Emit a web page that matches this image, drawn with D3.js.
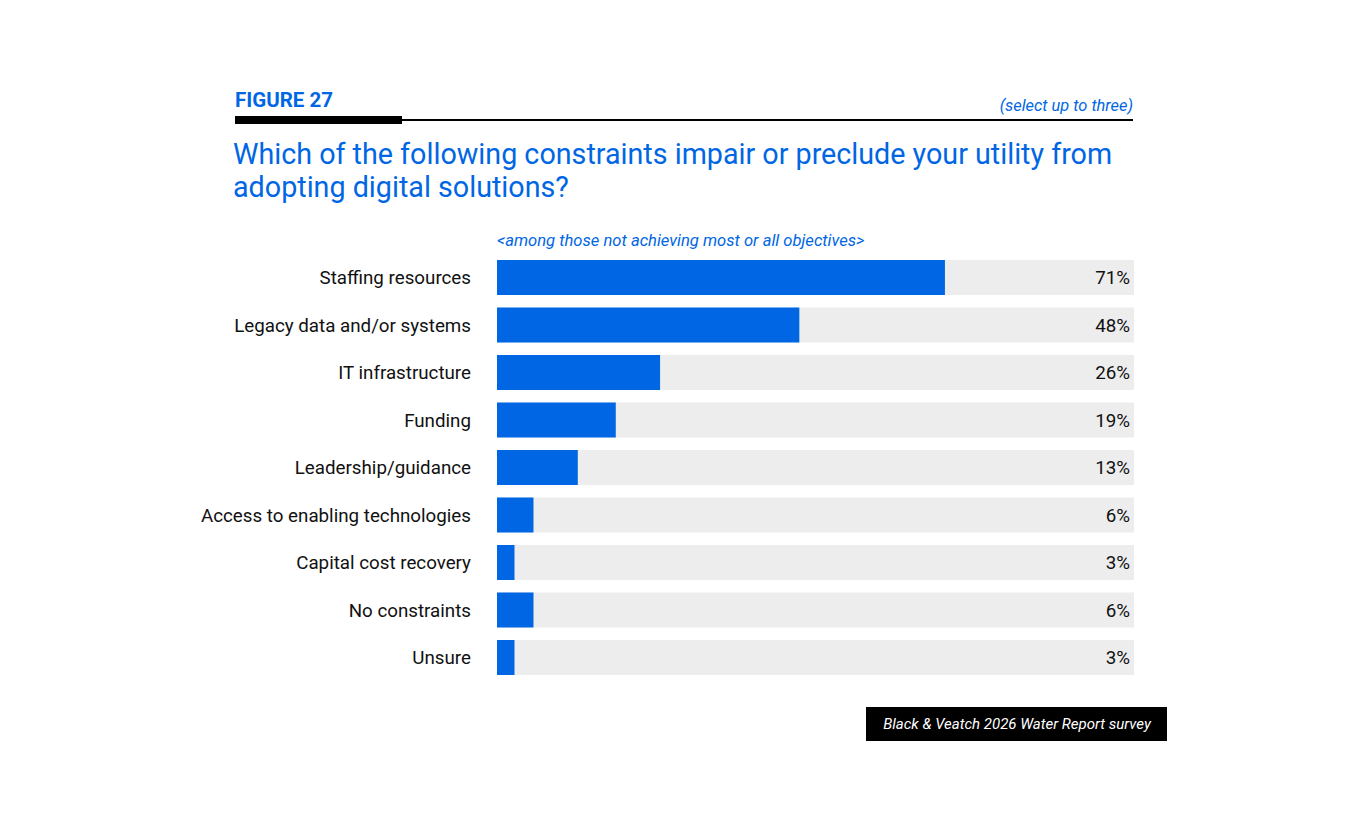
<!DOCTYPE html>
<html>
<head>
<meta charset="utf-8">
<script src="https://cdn.jsdelivr.net/npm/d3@7"></script>
<style>
  body { margin: 0; background: #fff; }
  text { font-family: Roboto, "Open Sans", sans-serif; }
</style>
</head>
<body>
<script>
// data
var categories = ["Staffing resources", "Legacy data and/or systems", "IT infrastructure",
  "Funding", "Leadership/guidance", "Access to enabling technologies",
  "Capital cost recovery", "No constraints", "Unsure"];
var values = [71, 48, 26, 19, 13, 6, 3, 6, 3];

var data = categories.map(function(c, i) { return {name: c, value: values[i]}; });

var W = 1367, H = 827;
var blue = "#0066e4";

var svg = d3.select("body")
  .append("svg")
    .attr("width", W)
    .attr("height", H);

// header
svg.append("text")
  .attr("x", 235).attr("y", 107)
  .style("font-size", "20.5px")
  .style("font-weight", "bold")
  .style("fill", blue)
  .text("FIGURE 27");

svg.append("rect")
  .attr("x", 235).attr("y", 116)
  .attr("width", 167).attr("height", 8)
  .attr("fill", "#000");

svg.append("rect")
  .attr("x", 402).attr("y", 119)
  .attr("width", 731).attr("height", 2)
  .attr("fill", "#000");

svg.append("text")
  .attr("x", 1133).attr("y", 111)
  .attr("text-anchor", "end")
  .style("font-size", "16.4px")
  .style("font-style", "italic")
  .style("fill", blue)
  .text("(select up to three)");

var q = svg.append("text")
  .style("font-size", "28.7px")
  .style("fill", blue);
q.append("tspan").attr("x", 233).attr("y", 164)
  .text("Which of the following constraints impair or preclude your utility from");
q.append("tspan").attr("x", 233).attr("y", 197)
  .text("adopting digital solutions?");

svg.append("text")
  .attr("x", 497).attr("y", 246)
  .style("font-size", "16.6px")
  .style("font-style", "italic")
  .style("fill", blue)
  .text("<among those not achieving most or all objectives>");

// scales
var plotLeft = 497, plotRight = 1134;
var x = d3.scaleLinear()
  .domain([0, 100])
  .range([plotLeft, 1130]);

var y = d3.scaleBand()
  .domain(categories)
  .range([260, 675])
  .paddingInner(0.263)
  .paddingOuter(0);

// grey track
svg.append("g")
  .selectAll("rect")
  .data(data)
  .enter()
  .append("rect")
  .attr("x", plotLeft)
  .attr("y", function(d) { return y(d.name); })
  .attr("width", plotRight - plotLeft)
  .attr("height", y.bandwidth())
  .attr("fill", "#ededed");

// bars
svg.append("g")
  .selectAll("rect")
  .data(data)
  .enter()
  .append("rect")
  .attr("x", x(0))
  .attr("y", function(d) { return y(d.name); })
  .attr("width", function(d) { return x(d.value) - x(0) - 1.5; })
  .attr("height", y.bandwidth())
  .attr("fill", blue);

// category labels
svg.append("g")
  .selectAll("text")
  .data(data)
  .enter()
  .append("text")
  .attr("x", 471)
  .attr("y", function(d) { return y(d.name) + y.bandwidth() / 2; })
  .attr("dy", "0.35em")
  .attr("text-anchor", "end")
  .style("font-size", "18.75px")
  .style("fill", "#111")
  .text(function(d) { return d.name; });

// value labels
svg.append("g")
  .selectAll("text")
  .data(data)
  .enter()
  .append("text")
  .attr("x", 1130)
  .attr("y", function(d) { return y(d.name) + y.bandwidth() / 2; })
  .attr("dy", "0.35em")
  .attr("text-anchor", "end")
  .style("font-size", "18.75px")
  .style("fill", "#111")
  .text(function(d) { return d.value + "%"; });

// source box
svg.append("rect")
  .attr("x", 866).attr("y", 707)
  .attr("width", 301).attr("height", 34)
  .attr("fill", "#000");

svg.append("text")
  .attr("x", 1017).attr("y", 729)
  .attr("text-anchor", "middle")
  .style("font-size", "15px")
  .style("font-style", "italic")
  .style("fill", "#fff")
  .text("Black & Veatch 2026 Water Report survey");
</script>
</body>
</html>
